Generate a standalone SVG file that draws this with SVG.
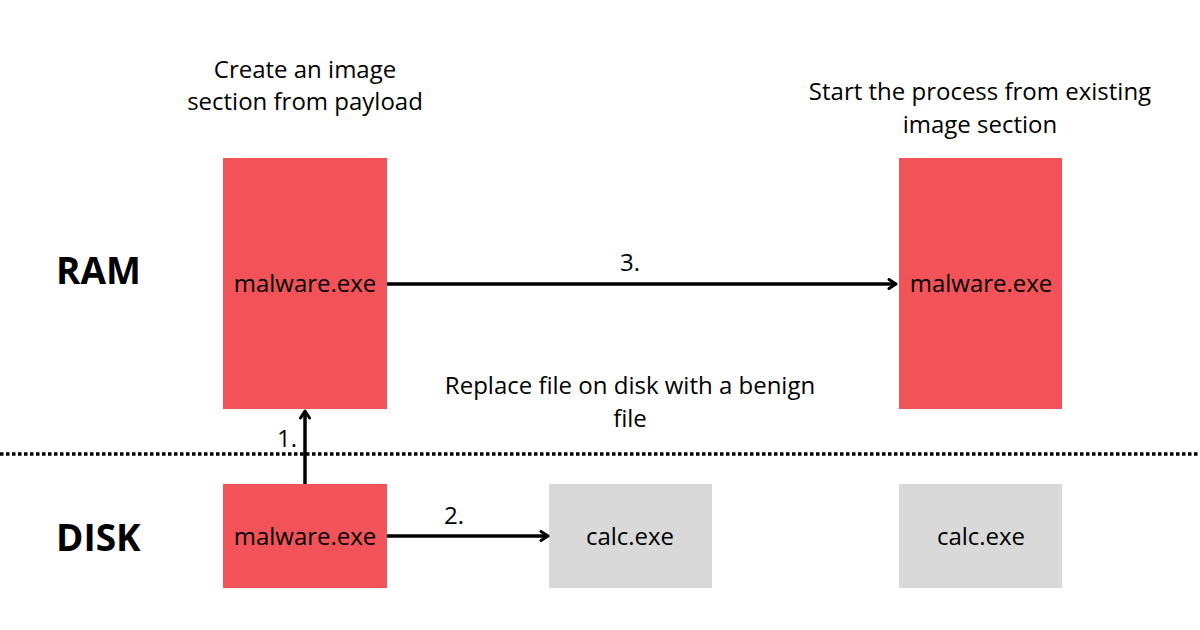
<svg xmlns="http://www.w3.org/2000/svg" width="1200" height="630" viewBox="0 0 1200 630">
<style>
text{font-family:"Open Sans","Noto Sans",sans-serif;fill:#000;font-size:24px}
.c{text-anchor:middle}
.h{font-weight:bold;font-size:37px}
.red{fill:#F15359}
.gray{fill:#D9D9D9}
.arr{stroke:#000;stroke-width:3.5;fill:none}
</style>
<defs>
<marker id="ah" viewBox="0 0 12 12" refX="10" refY="6" markerWidth="12" markerHeight="12" markerUnits="userSpaceOnUse" orient="auto">
<path d="M3,1.5 L10,6 L3,10.5" fill="none" stroke="#000" stroke-width="3" stroke-linecap="round" stroke-linejoin="round"/>
</marker>
</defs>
<rect width="1200" height="630" fill="#fff"/>
<line x1="0" y1="454" x2="1200" y2="454" stroke="#000" stroke-width="3.5" stroke-dasharray="3.5 2.5"/>
<text x="56" y="284" class="h">RAM</text>
<text x="56" y="551" class="h">DISK</text>
<g id="labels">
<text x="305" y="78" class="c">Create an image</text>
<text x="305" y="110" class="c">section from payload</text>
<text x="980" y="100" class="c">Start the process from existing</text>
<text x="980" y="133" class="c">image section</text>
<text x="630" y="394" class="c">Replace file on disk with a benign</text>
<text x="630" y="427" class="c">file</text>
</g>
<g id="ram-malware">
<rect x="223" y="158" width="164" height="251" class="red"/>
<text x="305" y="292" class="c">malware.exe</text>
</g>
<g id="ram-malware-2">
<rect x="899" y="158" width="163" height="251" class="red"/>
<text x="981" y="292" class="c">malware.exe</text>
</g>
<g id="disk-malware">
<rect x="223" y="484" width="164" height="104" class="red"/>
<text x="305" y="545" class="c">malware.exe</text>
</g>
<g id="disk-calc">
<rect x="549" y="484" width="163" height="104" class="gray"/>
<text x="630" y="545" class="c">calc.exe</text>
</g>
<g id="disk-calc-2">
<rect x="899" y="484" width="163" height="104" class="gray"/>
<text x="981" y="545" class="c">calc.exe</text>
</g>
<g id="connectors">
<line x1="305" y1="484" x2="305" y2="411" class="arr" marker-end="url(#ah)"/>
<text x="287" y="447" class="c">1.</text>
<line x1="387" y1="536" x2="548" y2="536" class="arr" marker-end="url(#ah)"/>
<text x="454" y="524" class="c">2.</text>
<line x1="387" y1="284" x2="896" y2="284" class="arr" marker-end="url(#ah)"/>
<text x="630" y="271" class="c">3.</text>
</g>
</svg>
